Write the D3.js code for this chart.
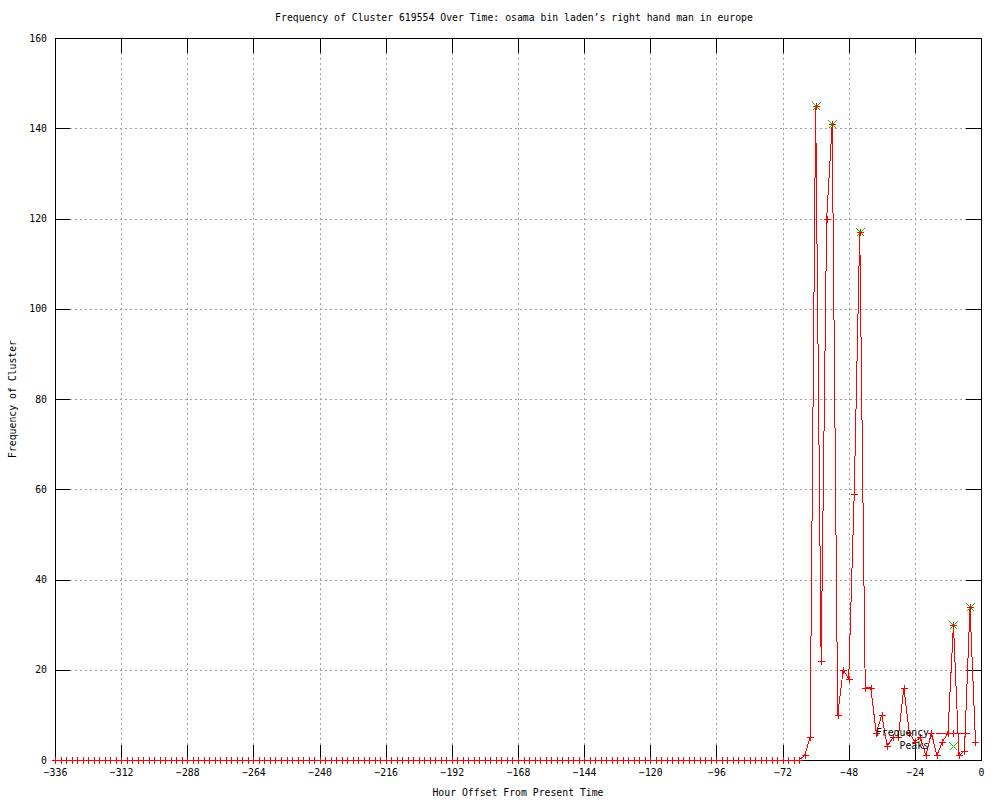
<!DOCTYPE html>
<html>
<head>
<meta charset="utf-8">
<script src="https://cdn.jsdelivr.net/npm/d3@7"></script>
<style>
    body { margin: 0; background: #fff; }
    text { font-family: "DejaVu Sans Mono", monospace; font-size: 9.8px; fill: #000; }
</style>
</head>
<body>
<div id="chart-area"></div>
<script>
// hour offsets, one sample every 2 hours
const hours = d3.range(-336, 0, 2)
const frequency = [
    0, 0, 0, 0, 0, 0, 0, 0, 0, 0, 0, 0, 0, 0, 0, 0, 0,
    0, 0, 0, 0, 0, 0, 0, 0, 0, 0, 0, 0, 0, 0, 0, 0, 0,
    0, 0, 0, 0, 0, 0, 0, 0, 0, 0, 0, 0, 0, 0, 0, 0, 0,
    0, 0, 0, 0, 0, 0, 0, 0, 0, 0, 0, 0, 0, 0, 0, 0, 0,
    0, 0, 0, 0, 0, 0, 0, 0, 0, 0, 0, 0, 0, 0, 0, 0, 0,
    0, 0, 0, 0, 0, 0, 0, 0, 0, 0, 0, 0, 0, 0, 0, 0, 0,
    0, 0, 0, 0, 0, 0, 0, 0, 0, 0, 0, 0, 0, 0, 0, 0, 0,
    0, 0, 0, 0, 0, 0, 0, 0, 0, 0, 0, 0, 0, 0, 0, 0, 0,
    1, 5, 145, 22, 120, 141, 10, 20, 18, 59, 117, 16, 16, 6, 10, 3,
    5, 5, 16, 6, 4, 5, 1, 6, 1, 4, 6, 30, 1, 2, 34, 4
]
const peakHours = [-60, -54, -44, -10, -4]
const peakValues = [145, 141, 117, 30, 34]
const xTicks = [-336, -312, -288, -264, -240, -216, -192, -168, -144, -120, -96, -72, -48, -24, 0]
const yTicks = [0, 20, 40, 60, 80, 100, 120, 140, 160]

const titleText = "Frequency of Cluster 619554 Over Time: osama bin laden\u2019s right hand man in europe"

const MARGIN = { LEFT: 55, RIGHT: 19, TOP: 38, BOTTOM: 40 }
const WIDTH = 1000 - MARGIN.LEFT - MARGIN.RIGHT
const HEIGHT = 800 - MARGIN.TOP - MARGIN.BOTTOM
const TICK = 15
const GREEN = "#00d000"

const svg = d3.select("#chart-area").append("svg")
    .attr("width", 1000)
    .attr("height", 800)

const g = svg.append("g")
    .attr("transform", `translate(${MARGIN.LEFT}, ${MARGIN.TOP})`)

const x = d3.scaleLinear().domain([-336, 0]).range([0, WIDTH])
const y = d3.scaleLinear().domain([0, 160]).range([HEIGHT, 0])

// grid
g.append("g").selectAll("line")
    .data(yTicks.filter(d => d > 0 && d < 160))
    .enter().append("line")
    .attr("x1", 0).attr("x2", WIDTH)
    .attr("y1", d => Math.round(y(d)) + 0.5).attr("y2", d => Math.round(y(d)) + 0.5)
    .attr("stroke", "#a0a0a0")
    .attr("stroke-dasharray", "2,3")
g.append("g").selectAll("line")
    .data(xTicks.filter(d => d > -336 && d < 0))
    .enter().append("line")
    .attr("y1", 0).attr("y2", HEIGHT)
    .attr("x1", d => Math.round(x(d)) + 0.5).attr("x2", d => Math.round(x(d)) + 0.5)
    .attr("stroke", "#a0a0a0")
    .attr("stroke-dasharray", "2,3")

// axes, ticks pointing inward like gnuplot
const yAxisCall = d3.axisLeft(y).tickValues(yTicks).tickSize(-TICK).tickPadding(8)
const xAxisCall = d3.axisBottom(x).tickValues(xTicks).tickSize(-TICK).tickPadding(9)
const yAxisRight = d3.axisRight(y).tickValues(yTicks).tickSize(-TICK).tickFormat("")
const xAxisTop = d3.axisTop(x).tickValues(xTicks).tickSize(-TICK).tickFormat("")

const axes = [
    g.append("g").call(yAxisCall),
    g.append("g").attr("transform", `translate(0, ${HEIGHT})`).call(xAxisCall),
    g.append("g").attr("transform", `translate(${WIDTH}, 0)`).call(yAxisRight),
    g.append("g").call(xAxisTop)
]
axes.forEach(a => {
    a.select(".domain").remove()
    a.selectAll("line").attr("stroke", "#000").attr("shape-rendering", "crispEdges")
    a.selectAll("text").attr("font-family", "DejaVu Sans Mono").attr("font-size", "9.8px")
})

// border
g.append("rect")
    .attr("x", 0).attr("y", 0)
    .attr("width", WIDTH).attr("height", HEIGHT)
    .attr("fill", "none")
    .attr("stroke", "#000")
    .attr("shape-rendering", "crispEdges")

// frequency line + points
const data = hours.map((h, i) => ({ hour: h, value: frequency[i] }))
const line = d3.line().x(d => x(d.hour)).y(d => y(d.value))

g.append("path")
    .datum(data)
    .attr("d", line)
    .attr("fill", "none")
    .attr("stroke", "#ff0000")
    .attr("stroke-width", 1)
    .attr("shape-rendering", "crispEdges")

const plus = (sel, cx, cy, r, color) => {
    sel.append("path")
        .attr("d", `M${cx - r},${cy}H${cx + r}M${cx},${cy - r}V${cy + r}`)
        .attr("stroke", color)
        .attr("fill", "none")
        .attr("shape-rendering", "crispEdges")
}
const cross = (sel, cx, cy, r, color) => {
    sel.append("path")
        .attr("d", `M${cx - r},${cy - r}L${cx + r},${cy + r}M${cx - r},${cy + r}L${cx + r},${cy - r}`)
        .attr("stroke", color)
        .attr("fill", "none")
        .attr("shape-rendering", "crispEdges")
}

// peaks (green x)
const peakG = g.append("g")
peakHours.forEach((h, i) => cross(peakG, Math.round(x(h)) + 0.5, Math.round(y(peakValues[i])) + 0.5, 4, GREEN))

const pointG = g.append("g")
data.forEach(d => plus(pointG, Math.round(x(d.hour)) + 0.5, Math.round(y(d.value)) + 0.5, 3.5, "#ff0000"))

// legend
const legend = svg.append("g")
legend.append("text")
    .attr("x", 929).attr("y", 733).attr("dy", "0.35em")
    .attr("text-anchor", "end")
    .text("Frequency")
legend.append("line")
    .attr("x1", 936).attr("x2", 970)
    .attr("y1", 733.5).attr("y2", 733.5)
    .attr("stroke", "#ff0000")
plus(legend, 953.5, 733.5, 3.5, "#ff0000")
legend.append("text")
    .attr("x", 929).attr("y", 746).attr("dy", "0.35em")
    .attr("text-anchor", "end")
    .text("Peaks")
cross(legend, 953.5, 746.5, 4, GREEN)

// title and labels
svg.append("text")
    .attr("x", 514).attr("y", 18).attr("dy", "0.35em")
    .attr("text-anchor", "middle")
    .text(titleText)

svg.append("text")
    .attr("x", MARGIN.LEFT + WIDTH / 2).attr("y", 793).attr("dy", "0.35em")
    .attr("text-anchor", "middle")
    .text("Hour Offset From Present Time")

svg.append("text")
    .attr("transform", `translate(13, ${MARGIN.TOP + HEIGHT / 2}) rotate(-90)`)
    .attr("dy", "0.35em")
    .attr("text-anchor", "middle")
    .text("Frequency of Cluster")
</script>
</body>
</html>
